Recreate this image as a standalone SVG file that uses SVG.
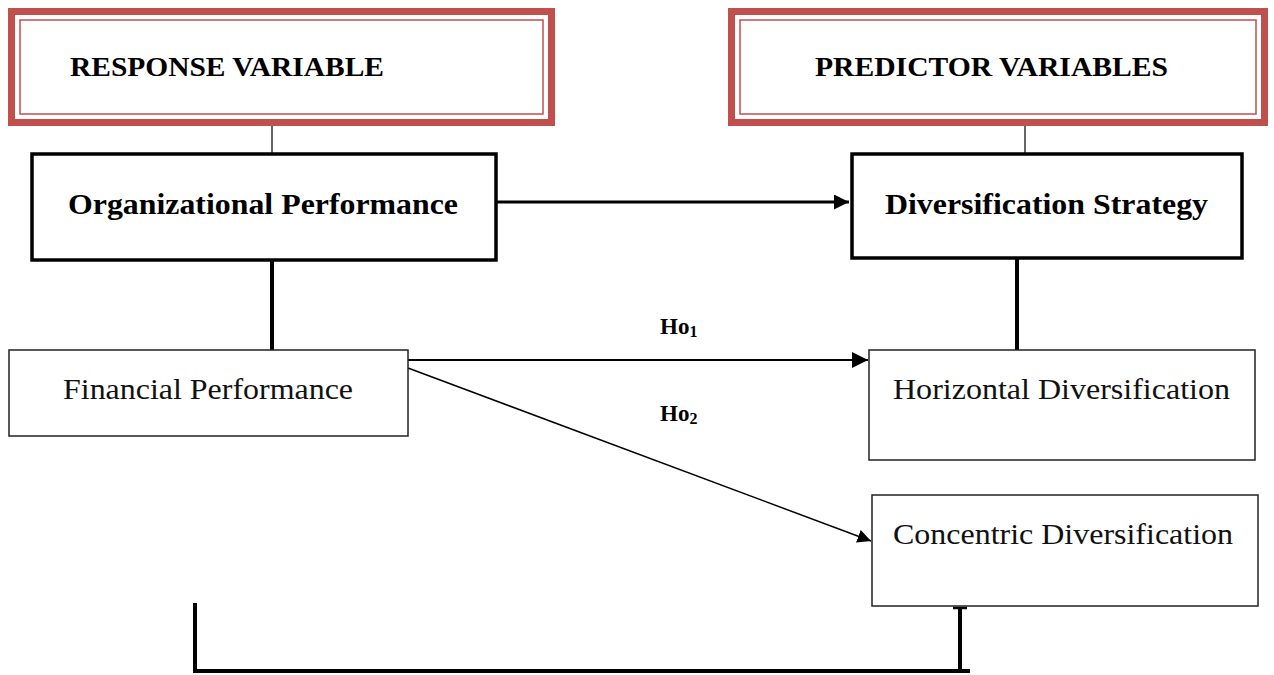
<svg xmlns="http://www.w3.org/2000/svg" width="1274" height="675" viewBox="0 0 1274 675">
<style>
.outer{fill:#fff;stroke:#C0504D;stroke-width:7}
.inner{fill:none;stroke:#C0504D;stroke-width:1.5}
.thick{fill:#fff;stroke:#000;stroke-width:3.5}
.thin{fill:#fff;stroke:#222;stroke-width:1.5}
.hdr{font-family:"Liberation Serif",serif;font-weight:bold;font-size:27px;fill:#000}
.bt{font-family:"Liberation Serif",serif;font-weight:bold;font-size:29px;fill:#000}
.rt{font-family:"Liberation Serif",serif;font-size:29px;fill:#111}
.lab{font-family:"Liberation Serif",serif;font-weight:bold;font-size:23px;fill:#000}
</style>
<defs>
<marker id="ah" viewBox="0 0 10 10" refX="10" refY="5" markerWidth="5" markerHeight="5" markerUnits="strokeWidth" orient="auto"><path d="M0,0 L10,5 L0,10 z" fill="#000"/></marker>
<marker id="ah2" viewBox="0 0 10 10" refX="10" refY="5" markerWidth="9" markerHeight="9" markerUnits="strokeWidth" orient="auto"><path d="M0,0 L10,5 L0,10 z" fill="#000"/></marker>
</defs>
<rect width="1274" height="675" fill="#fff"/>
<g id="connectors" fill="none" stroke="#000">
<line x1="272" y1="126" x2="272" y2="153" stroke-width="1.2"/>
<line x1="1025" y1="126" x2="1025" y2="153" stroke-width="1.2"/>
<line x1="497" y1="202" x2="849" y2="202" stroke-width="3" marker-end="url(#ah)"/>
<line x1="272" y1="261" x2="272" y2="350" stroke-width="4"/>
<line x1="1017" y1="259" x2="1017" y2="350" stroke-width="4"/>
<line x1="408" y1="360" x2="868" y2="360" stroke-width="1.8" marker-end="url(#ah2)"/>
<line x1="408" y1="368" x2="871" y2="541" stroke-width="1.5" marker-end="url(#ah2)"/>
<polyline points="195,603 195,671 970,671" stroke-width="4"/>
<line x1="960" y1="607" x2="960" y2="671" stroke-width="4"/>
<line x1="953" y1="608" x2="967" y2="608" stroke-width="2.5"/>
</g>
<g id="response-variable">
<rect class="outer" x="11.5" y="11.5" width="540" height="111"/>
<rect class="inner" x="20" y="20" width="523" height="94"/>
<text class="hdr" x="70" y="76" textLength="314" lengthAdjust="spacingAndGlyphs">RESPONSE VARIABLE</text>
</g>
<g id="predictor-variables">
<rect class="outer" x="731.5" y="11.5" width="533" height="111"/>
<rect class="inner" x="740" y="20" width="516" height="94"/>
<text class="hdr" x="815" y="76" textLength="353" lengthAdjust="spacingAndGlyphs">PREDICTOR VARIABLES</text>
</g>
<g id="organizational-performance">
<rect class="thick" x="32" y="154" width="464" height="106"/>
<text class="bt" x="68" y="214" textLength="390" lengthAdjust="spacingAndGlyphs">Organizational Performance</text>
</g>
<g id="diversification-strategy">
<rect class="thick" x="852" y="154" width="390" height="104"/>
<text class="bt" x="885" y="214" textLength="323" lengthAdjust="spacingAndGlyphs">Diversification Strategy</text>
</g>
<g id="financial-performance">
<rect class="thin" x="9" y="350" width="399" height="86"/>
<text class="rt" x="63" y="399" textLength="290" lengthAdjust="spacingAndGlyphs">Financial Performance</text>
</g>
<g id="horizontal-diversification">
<rect class="thin" x="869" y="350" width="386" height="110"/>
<text class="rt" x="893" y="399" textLength="337" lengthAdjust="spacingAndGlyphs">Horizontal Diversification</text>
</g>
<g id="concentric-diversification">
<rect class="thin" x="872" y="495" width="386" height="111"/>
<text class="rt" x="893" y="544" textLength="340" lengthAdjust="spacingAndGlyphs">Concentric Diversification</text>
</g>
<g id="labels">
<text class="lab" x="660" y="334">Ho<tspan font-size="16" dy="3">1</tspan></text>
<text class="lab" x="660" y="421">Ho<tspan font-size="16" dy="3">2</tspan></text>
</g>
</svg>
